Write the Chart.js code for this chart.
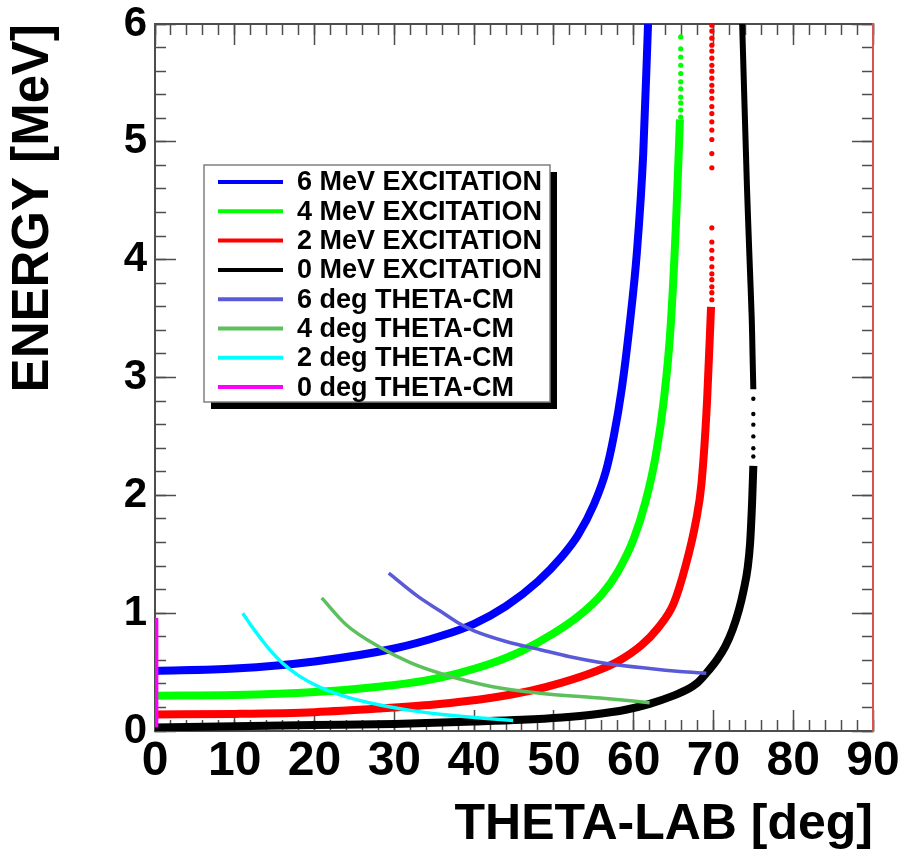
<!DOCTYPE html>
<html>
<head>
<meta charset="utf-8">
<title>Kinematics</title>
<script src="https://cdn.jsdelivr.net/npm/chart.js@4.4.1/dist/chart.umd.min.js"></script>
<style>
  html, body { margin: 0; padding: 0; background: #fff; }
  #wrap { width: 904px; height: 857px; }
</style>
</head>
<body>
<div id="wrap"><canvas id="kinChart" width="904" height="857"></canvas></div>
<script>
// lab angle [deg] vs energy [MeV] for each excitation energy
const ex6Theta  = [0, 10, 20, 30, 36, 40, 44, 48, 51, 53, 55, 56.5, 57.5, 58.5, 59.5, 60.4, 61.2, 61.8];
const ex6Energy = [0.51, 0.53, 0.59, 0.70, 0.81, 0.91, 1.06, 1.27, 1.48, 1.66, 1.92, 2.2, 2.5, 2.9, 3.45, 4.06, 4.9, 6.0];

const ex4Theta  = [0, 10, 20, 28, 34, 38, 42, 46, 50, 53, 56, 58, 60, 61.5, 62.8, 63.8, 64.6, 65.3, 65.8];
const ex4Energy = [0.30, 0.305, 0.33, 0.375, 0.43, 0.49, 0.57, 0.68, 0.83, 0.97, 1.16, 1.35, 1.63, 1.95, 2.35, 2.82, 3.4, 4.3, 5.19];
const ex4DotTheta  = [65.9, 65.9, 65.9, 65.9, 65.9, 65.9, 65.9, 65.9, 65.9, 65.9, 65.9];
const ex4DotEnergy = [5.21, 5.27, 5.33, 5.38, 5.45, 5.51, 5.58, 5.65, 5.72, 5.79, 5.89];

const ex2Theta  = [0, 10, 20, 28, 35, 42, 47, 51, 55, 58, 61, 63, 65, 66.5, 67.8, 68.5, 69.2, 69.7];
const ex2Energy = [0.14, 0.145, 0.16, 0.19, 0.225, 0.28, 0.34, 0.41, 0.50, 0.59, 0.73, 0.87, 1.08, 1.40, 1.78, 2.1, 2.8, 3.6];
const ex2DotEnergy = [3.66, 3.72, 3.77, 3.83, 3.88, 3.94, 4.01, 4.08, 4.15, 4.27,
                      4.78, 4.90, 5.02, 5.10, 5.17, 5.24, 5.30, 5.37, 5.43, 5.48,
                      5.54, 5.60, 5.65, 5.71, 5.77, 5.82, 5.88, 5.94, 5.99];
const ex2DotTheta = ex2DotEnergy.map(() => 69.8);

const ex0Theta  = [0, 10, 20, 30, 40, 46, 51, 55, 59, 62, 65, 66.5, 68, 69.1, 70.5, 71.5, 72.4, 73.2, 73.8, 74.3, 74.6, 74.85, 75.0];
const ex0Energy = [0.03, 0.04, 0.05, 0.06, 0.08, 0.095, 0.115, 0.14, 0.18, 0.23, 0.30, 0.345, 0.41, 0.49, 0.61, 0.72, 0.86, 1.03, 1.2, 1.39, 1.6, 1.95, 2.25];
const ex0UpTheta  = [75.0, 74.9, 74.8, 74.5, 74.2, 73.6];
const ex0UpEnergy = [2.9, 3.2, 3.5, 4.05, 4.62, 6.0];
const ex0DotTheta  = [75.0, 75.0, 75.0, 75.0, 75.0, 75.0];
const ex0DotEnergy = [2.33, 2.40, 2.50, 2.60, 2.69, 2.82];

// constant centre-of-mass angle lines
const cm6Theta  = [29.3, 33, 35.7, 38.2, 40, 44, 48.3, 52, 56, 62, 65.8, 69.1];
const cm6Energy = [1.34, 1.14, 1.02, 0.91, 0.85, 0.76, 0.69, 0.63, 0.58, 0.53, 0.505, 0.49];
const cm4Theta  = [20.9, 24, 28.2, 32, 35.7, 42, 48.3, 55.8, 62];
const cm4Energy = [1.13, 0.90, 0.71, 0.58, 0.49, 0.38, 0.32, 0.28, 0.24];
const cm2Theta  = [11.0, 12.0, 13.2, 14.5, 16, 18, 20.7, 24, 28.2, 32, 36, 40, 44.9];
const cm2Energy = [1.0, 0.90, 0.79, 0.68, 0.575, 0.47, 0.37, 0.29, 0.22, 0.175, 0.14, 0.115, 0.09];
const cm0Theta  = [0.2, 0.2];
const cm0Energy = [0.03, 0.96];

const xTicks = [0, 10, 20, 30, 40, 50, 60, 70, 80, 90];
const yTicks = [0, 1, 2, 3, 4, 5, 6];

const frameColor = '#4d4d4d';
const boldFont = '"Liberation Sans", Arial, Helvetica, sans-serif';

function pts(xs, ys) {
    return xs.map((x, i) => ({ x: x, y: ys[i] }));
}

function curve(label, xs, ys, color, width, order) {
    return {
        label: label,
        inLegend: true,
        data: pts(xs, ys),
        borderColor: color,
        backgroundColor: color,
        borderWidth: width,
        pointRadius: 0,
        cubicInterpolationMode: 'monotone',
        fill: false,
        order: order
    };
}

function extraLine(xs, ys, color, width) {
    const d = curve('', xs, ys, color, width, 1);
    d.inLegend = false;
    d.cubicInterpolationMode = 'default';
    d.tension = 0.3;
    return d;
}

function dots(xs, ys, color, r) {
    return {
        label: '',
        inLegend: false,
        data: pts(xs, ys),
        showLine: false,
        pointRadius: r,
        pointBorderWidth: 0,
        pointBackgroundColor: color,
        borderColor: color,
        order: 1
    };
}

// fixed box sizes so the frame sits in the same place every time,
// and no extra room for labels hanging over the ends
function fixSize(size) {
    return function (scale) {
        if (scale.isHorizontal()) scale.height = size;
        else scale.width = size;
        scale.paddingTop = 0;
        scale.paddingBottom = 0;
        scale.paddingLeft = 0;
        scale.paddingRight = 0;
    };
}

// a tick-only axis used for the minor ticks and the top/right frame
function tickAxis(position, min, max, step, len, withBorder, borderColor) {
    return {
        type: 'linear',
        position: position,
        min: min,
        max: max,
        weight: 0,
        afterFit: fixSize(0),
        ticks: { display: false, stepSize: step, autoSkip: false },
        grid: { drawOnChartArea: false, tickLength: len, tickColor: frameColor, tickWidth: 1.5 },
        border: { display: withBorder, color: borderColor || frameColor, width: 2 }
    };
}

// ROOT style legend box with a drop shadow
const legendBox = {
    id: 'legendBox',
    afterDatasetsDraw(chart) {
        const ctx = chart.ctx;
        const items = chart.data.datasets.filter(d => d.inLegend);
        const bx = 204, by = 165, bw = 346, bh = 237;
        ctx.save();
        ctx.fillStyle = '#000';
        ctx.fillRect(bx + 7, by + 7, bw, bh);
        ctx.fillStyle = '#fff';
        ctx.fillRect(bx, by, bw, bh);
        ctx.strokeStyle = '#808080';
        ctx.lineWidth = 1.5;
        ctx.strokeRect(bx, by, bw, bh);
        ctx.font = 'bold 27px ' + boldFont;
        ctx.textBaseline = 'middle';
        ctx.textAlign = 'left';
        items.forEach((d, i) => {
            const rowY = by + 17 + i * 29.3;
            ctx.strokeStyle = d.borderColor;
            ctx.lineWidth = 4;
            ctx.beginPath();
            ctx.moveTo(218, rowY);
            ctx.lineTo(283, rowY);
            ctx.stroke();
            ctx.fillStyle = '#000';
            ctx.fillText(d.label, 297, rowY + 1);
        });
        ctx.restore();
    }
};

const datasets = [
    curve('6 MeV EXCITATION', ex6Theta, ex6Energy, '#0000ff', 8, 1),
    curve('4 MeV EXCITATION', ex4Theta, ex4Energy, '#00ff00', 8, 1),
    curve('2 MeV EXCITATION', ex2Theta, ex2Energy, '#ff0000', 8, 1),
    curve('0 MeV EXCITATION', ex0Theta, ex0Energy, '#000000', 8, 1),
    curve('6 deg THETA-CM', cm6Theta, cm6Energy, '#5a5ad8', 3.5, 0),
    curve('4 deg THETA-CM', cm4Theta, cm4Energy, '#5cc05c', 3.5, 0),
    curve('2 deg THETA-CM', cm2Theta, cm2Energy, '#00ffff', 3.5, 0),
    curve('0 deg THETA-CM', cm0Theta, cm0Energy, '#ff00ff', 3.5, 0),
    extraLine(ex0UpTheta, ex0UpEnergy, '#000000', 6),
    dots(ex4DotTheta, ex4DotEnergy, '#00ff00', 2.6),
    dots(ex2DotTheta, ex2DotEnergy, '#ff0000', 2.6),
    dots(ex0DotTheta, ex0DotEnergy, '#000000', 2.2)
];

const ctx = document.getElementById('kinChart').getContext('2d');
new Chart(ctx, {
    type: 'line',
    data: { datasets: datasets },
    plugins: [legendBox],
    options: {
        responsive: false,
        animation: false,
        devicePixelRatio: 1,
        layout: { padding: { left: 0, right: 31, top: 24, bottom: 0 } },
        plugins: {
            legend: { display: false },
            tooltip: { enabled: false }
        },
        scales: {
            x: {
                type: 'linear',
                position: 'bottom',
                min: xTicks[0],
                max: xTicks[xTicks.length - 1],
                weight: 1,
                afterFit: fixSize(126),
                afterBuildTicks: (scale) => { scale.ticks = xTicks.map(v => ({ value: v })); },
                ticks: {
                    autoSkip: false,
                    maxRotation: 0,
                    padding: 23,
                    color: '#000',
                    font: { family: boldFont, size: 48, weight: 'bold' }
                },
                grid: { drawOnChartArea: false, tickLength: -21, tickColor: frameColor, tickWidth: 1.5 },
                border: { color: frameColor, width: 2 },
                title: {
                    display: true,
                    text: 'THETA-LAB [deg]',
                    align: 'end',
                    color: '#000',
                    padding: { top: 0, bottom: 2 },
                    font: { family: boldFont, size: 50, weight: 'bold', lineHeight: 1.2 }
                }
            },
            y: {
                type: 'linear',
                position: 'left',
                min: yTicks[0],
                max: yTicks[yTicks.length - 1],
                weight: 1,
                afterFit: fixSize(155),
                afterBuildTicks: (scale) => { scale.ticks = yTicks.map(v => ({ value: v })); },
                ticks: {
                    autoSkip: false,
                    padding: 29,
                    color: '#000',
                    font: { family: boldFont, size: 42, weight: 'bold' }
                },
                grid: { drawOnChartArea: false, tickLength: -21, tickColor: frameColor, tickWidth: 1.5 },
                border: { color: frameColor, width: 2 },
                title: {
                    display: true,
                    text: 'ENERGY [MeV]',
                    align: 'end',
                    color: '#000',
                    padding: { top: 8, bottom: 0 },
                    font: { family: boldFont, size: 51, weight: 'bold', lineHeight: 1 }
                }
            },
            xMinor: tickAxis('bottom', 0, 90, 2, -11, false),
            yMinor: tickAxis('left', 0, 6, 0.2, -11, false),
            xTop: tickAxis('top', 0, 90, 10, -21, true),
            xTopMinor: tickAxis('top', 0, 90, 2, -11, false),
            yRight: tickAxis('right', 0, 6, 1, -21, true, '#d9534f'),
            yRightMinor: tickAxis('right', 0, 6, 0.2, -11, false)
        }
    }
});
</script>
</body>
</html>
